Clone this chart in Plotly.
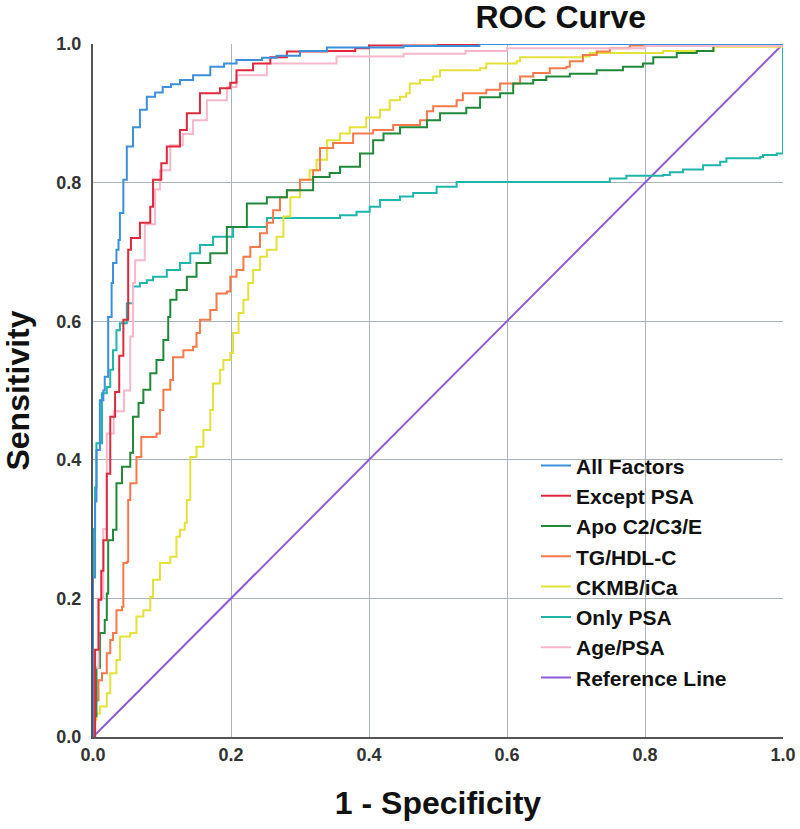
import plotly.graph_objects as go

# ---------------- data ----------------
series_names = ["All Factors", "Except PSA", "Apo C2/C3/E", "TG/HDL-C",
                "CKMB/iCa", "Only PSA", "Age/PSA", "Reference Line"]

all_fpr = [0, 0, 0.003, 0.005, 0.01, 0.015, 0.017, 0.022, 0.027, 0.029, 0.034, 0.037, 0.039,
           0.044, 0.049, 0.058, 0.068, 0.078, 0.09, 0.101, 0.113, 0.126, 0.145, 0.17, 0.19,
           0.208, 0.245, 0.266, 0.3, 0.339, 0.45, 0.56, 1.0]
all_tpr = [0, 0.23, 0.34, 0.414, 0.486, 0.50, 0.52, 0.606, 0.655, 0.684, 0.703, 0.717, 0.756,
           0.804, 0.852, 0.88, 0.905, 0.924, 0.93, 0.938, 0.942, 0.948, 0.955, 0.967, 0.972,
           0.977, 0.98, 0.983, 0.99, 0.995, 0.997, 1.0, 1.0]

exc_fpr = [0, 0.003, 0.008, 0.012, 0.015, 0.02, 0.025, 0.032, 0.038, 0.044, 0.051, 0.055,
           0.068, 0.083, 0.087, 0.099, 0.107, 0.126, 0.136, 0.155, 0.184, 0.199, 0.208, 0.232,
           0.257, 0.281, 0.339, 0.38, 0.40, 0.5, 1.0]
exc_tpr = [0, 0.126, 0.198, 0.24, 0.284, 0.38, 0.462, 0.498, 0.55, 0.602, 0.703, 0.72,
           0.742, 0.765, 0.804, 0.828, 0.852, 0.876, 0.9, 0.929, 0.936, 0.944, 0.962, 0.972,
           0.981, 0.989, 0.99, 0.994, 0.998, 1.0, 1.0]

apo_fpr = [0, 0, 0.005, 0.01, 0.017, 0.02, 0.022, 0.029, 0.034, 0.034, 0.042, 0.054, 0.058,
           0.066, 0.073, 0.083, 0.092, 0.102, 0.109, 0.112, 0.121, 0.136, 0.15, 0.17, 0.194,
           0.223, 0.252, 0.281, 0.319, 0.343, 0.358, 0.387, 0.406, 0.421, 0.445, 0.484, 0.503,
           0.541, 0.561, 0.59, 0.609, 0.638, 0.657, 0.691, 0.73, 0.768, 0.797, 0.812, 0.846,
           0.875, 0.899, 0.92, 1.0]
apo_tpr = [0, 0.03, 0.1, 0.15, 0.169, 0.207, 0.284, 0.299, 0.309, 0.366, 0.39, 0.41, 0.462,
           0.482, 0.501, 0.525, 0.544, 0.573, 0.606, 0.631, 0.645, 0.664, 0.684, 0.698, 0.736,
           0.77, 0.779, 0.789, 0.808, 0.814, 0.823, 0.842, 0.861, 0.871, 0.88, 0.89, 0.9,
           0.908, 0.923, 0.929, 0.943, 0.948, 0.953, 0.957, 0.962, 0.967, 0.972, 0.981, 0.987,
           0.99, 0.998, 1.0, 1.0]

tg_fpr = [0, 0.003, 0.003, 0.008, 0.013, 0.02, 0.025, 0.029, 0.034, 0.042, 0.044, 0.049,
          0.051, 0.054, 0.063, 0.07, 0.092, 0.097, 0.102, 0.112, 0.116, 0.131, 0.145, 0.15,
          0.155, 0.17, 0.179, 0.194, 0.199, 0.208, 0.218, 0.228, 0.242, 0.252, 0.261, 0.271,
          0.281, 0.3, 0.319, 0.329, 0.348, 0.377, 0.406, 0.435, 0.474, 0.484, 0.493, 0.527,
          0.536, 0.57, 0.59, 0.619, 0.638, 0.662, 0.686, 0.691, 0.71, 0.73, 0.749, 0.778,
          0.83, 1.0]
tg_tpr = [0, 0.03, 0.053, 0.082, 0.092, 0.121, 0.14, 0.15, 0.183, 0.188, 0.251, 0.253,
          0.342, 0.366, 0.404, 0.433, 0.438, 0.472, 0.501, 0.515, 0.548, 0.558, 0.563, 0.583,
          0.602, 0.616, 0.64, 0.643, 0.664, 0.674, 0.693, 0.707, 0.727, 0.742, 0.76, 0.779,
          0.789, 0.804, 0.818, 0.85, 0.857, 0.871, 0.876, 0.883, 0.89, 0.903, 0.91, 0.919,
          0.929, 0.934, 0.943, 0.953, 0.958, 0.965, 0.967, 0.975, 0.984, 0.989, 0.994, 0.998,
          1.0, 1.0]

ck_fpr = [0, 0.0, 0.005, 0.01, 0.02, 0.025, 0.034, 0.039, 0.054, 0.063, 0.073, 0.083, 0.087,
          0.097, 0.112, 0.121, 0.126, 0.133, 0.136, 0.141, 0.15, 0.16, 0.17, 0.174, 0.184,
          0.189, 0.199, 0.203, 0.211, 0.218, 0.225, 0.232, 0.242, 0.252, 0.266, 0.276, 0.286,
          0.3, 0.314, 0.324, 0.339, 0.358, 0.372, 0.396, 0.416, 0.43, 0.445, 0.454, 0.459,
          0.474, 0.493, 0.503, 0.561, 0.57, 0.614, 0.619, 0.71, 0.72, 0.826, 0.9, 1.0]
ck_tpr = [0, 0.025, 0.034, 0.044, 0.063, 0.092, 0.111, 0.145, 0.15, 0.174, 0.183, 0.202, 0.227,
          0.251, 0.26, 0.289, 0.299, 0.309, 0.342, 0.404, 0.419, 0.443, 0.472, 0.51, 0.53,
          0.544, 0.554, 0.583, 0.612, 0.631, 0.655, 0.674, 0.693, 0.703, 0.722, 0.751, 0.779,
          0.804, 0.818, 0.833, 0.861, 0.871, 0.88, 0.894, 0.905, 0.919, 0.924, 0.929, 0.943,
          0.948, 0.953, 0.962, 0.965, 0.972, 0.975, 0.981, 0.982, 0.987, 0.99, 0.996, 1.0]

psa_fpr = [0, 0, 0.003, 0.005, 0.013, 0.02, 0.025, 0.029, 0.034, 0.039, 0.049, 0.058, 0.068,
           0.078, 0.087, 0.107, 0.126, 0.141, 0.155, 0.174, 0.203, 0.252, 0.353, 0.358, 0.382,
           0.401, 0.416, 0.445, 0.464, 0.498, 0.527, 0.739, 0.749, 0.773, 0.826, 0.836, 0.855,
           0.884, 0.909, 0.918, 0.967, 0.971, 0.991, 0.998, 1.0, 1.0]
psa_tpr = [0, 0.3, 0.36, 0.424, 0.496, 0.505, 0.53, 0.558, 0.587, 0.597, 0.626, 0.65, 0.655,
           0.659, 0.664, 0.674, 0.684, 0.698, 0.71, 0.722, 0.736, 0.749, 0.749, 0.753, 0.758,
           0.765, 0.775, 0.78, 0.785, 0.794, 0.801, 0.801, 0.806, 0.81, 0.811, 0.815, 0.819,
           0.825, 0.83, 0.835, 0.837, 0.84, 0.842, 0.842, 0.871, 1.0]

age_fpr = [0, 0.003, 0.008, 0.015, 0.02, 0.03, 0.045, 0.054, 0.058, 0.061, 0.075, 0.09, 0.097,
           0.112, 0.13, 0.145, 0.165, 0.194, 0.208, 0.252, 0.33, 0.353, 0.45, 0.54, 0.6, 0.8, 1.0]
age_tpr = [0, 0.1, 0.2, 0.3, 0.438, 0.47, 0.5, 0.578, 0.655, 0.688, 0.74, 0.79, 0.818,
           0.854, 0.87, 0.89, 0.919, 0.938, 0.955, 0.972, 0.972, 0.982, 0.986, 0.99, 0.994,
           0.997, 1.0]

ref_fpr = [0, 1]
ref_tpr = [0, 1]

x_ticks = [0.0, 0.2, 0.4, 0.6, 0.8, 1.0]
y_ticks = [0.0, 0.2, 0.4, 0.6, 0.8, 1.0]
tick_text = ["0.0", "0.2", "0.4", "0.6", "0.8", "1.0"]

# ---------------- styling ----------------
colors = ["#3c8fdc", "#e0283c", "#21883a", "#f5794a", "#e3e23a", "#1fb5ab", "#f7b6c9", "#8e5bd6"]
xs = [all_fpr, exc_fpr, apo_fpr, tg_fpr, ck_fpr, psa_fpr, age_fpr, ref_fpr]
ys = [all_tpr, exc_tpr, apo_tpr, tg_tpr, ck_tpr, psa_tpr, age_tpr, ref_tpr]

fig = go.Figure()
draw_order = [7, 5, 4, 3, 2, 6, 1, 0]
for i in draw_order:
    fig.add_trace(go.Scatter(
        x=xs[i], y=ys[i], mode="lines", name=series_names[i],
        line=dict(color=colors[i], width=2, shape="linear" if i == 7 else "hv"),
        legendrank=i + 1,
    ))

font_family = "Arial, Liberation Sans, sans-serif"
fig.update_layout(
    width=800, height=829,
    margin=dict(l=93, r=17, t=44, b=92, autoexpand=False),
    paper_bgcolor="white", plot_bgcolor="white",
    title=dict(text="ROC Curve", x=0.701, xanchor="center", y=0.993, yanchor="top",
               pad=dict(t=0, b=0),
               font=dict(family=font_family, size=32, color="#111", weight="bold")),
    legend=dict(x=0.642, y=0.421, xanchor="left", yanchor="top",
                bgcolor="rgba(0,0,0,0)", borderwidth=0,
                font=dict(family=font_family, size=21, color="#111", weight="bold"),
                traceorder="normal", itemwidth=30),
    font=dict(family=font_family),
)
fig.update_xaxes(
    range=[0, 1], tickvals=x_ticks, ticktext=tick_text, automargin=False,
    showgrid=True, gridcolor="#a9b4bb", gridwidth=1,
    showline=True, linecolor="#555", linewidth=2, zeroline=False, ticks="",
    tickfont=dict(family=font_family, size=18, color="#333", weight="bold"),
    title=dict(text="1 - Specificity", standoff=28,
               font=dict(family=font_family, size=32, color="#111", weight="bold")),
)
fig.update_yaxes(
    range=[0, 1], tickvals=y_ticks, ticktext=tick_text, automargin=False,
    showgrid=True, gridcolor="#a9b4bb", gridwidth=1,
    showline=True, linecolor="#555", linewidth=2, zeroline=False, ticks="",
    ticklabelstandoff=6,
    tickfont=dict(family=font_family, size=18, color="#333", weight="bold"),
    title=dict(text="Sensitivity", standoff=27,
               font=dict(family=font_family, size=32, color="#111", weight="bold")),
)

# remove the default 8px page margin so the 800x829 figure fills the window exactly
fig.write_html("out.html",
               config={"displayModeBar": False},
               post_script="document.body.style.margin='0';document.body.style.overflow='hidden';")
